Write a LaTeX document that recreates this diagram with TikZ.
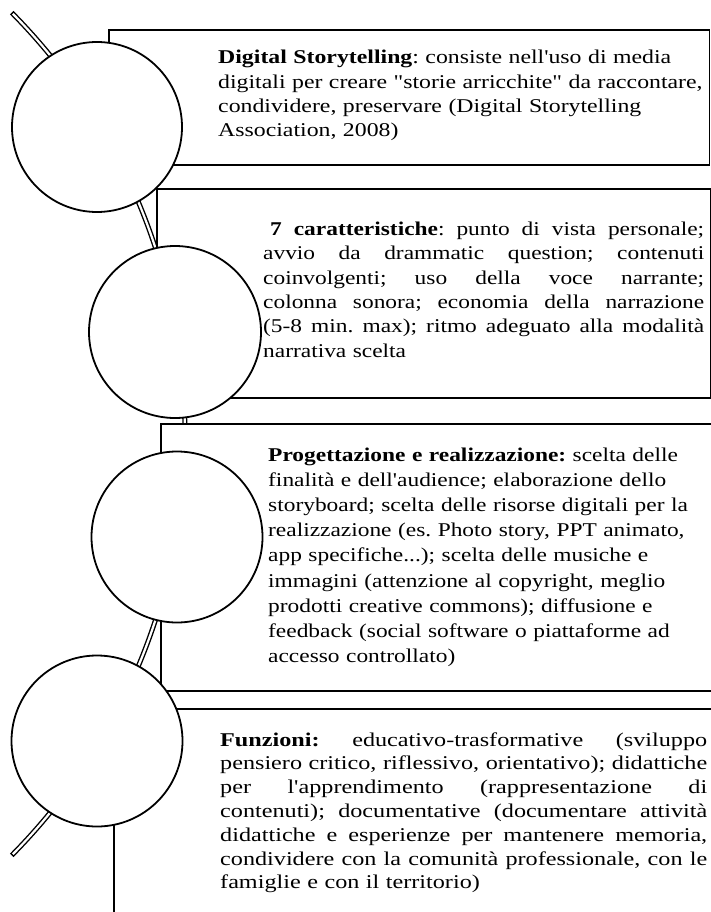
\documentclass[tikz,border=0pt]{standalone}
\usepackage{fontspec}
\usetikzlibrary{calc}
\newfontfamily\gar[FakeStretch=1.24]{Liberation Serif}
\newfontfamily\garm[FakeStretch=1.22]{Liberation Serif}
\newfontfamily\garn[FakeStretch=1.20]{Liberation Serif}
% one fully justified line of a text block (stretchable interword glue restored)
\newcommand{\justline}[1]{\makebox[\linewidth][s]{\spaceskip=0pt\xspaceskip=0pt #1}}
\begin{document}
\frenchspacing
\begin{tikzpicture}[x=1pt,y=-1pt,
  frame/.style={draw=black, line width=1.8pt, fill=white, rectangle, inner sep=0pt, anchor=north west},
  bubble/.style={circle, draw=black, line width=1.8pt, fill=white, inner sep=0pt},
  txt/.style={anchor=base west, inner sep=0pt, align=left, text=black}]
\useasboundingbox (0,0) rectangle (711,912);

% timeline: a double rule on a wide arc through the four circles
\coordinate (hub) at (-414,434);
\coordinate (railTop) at ($(hub)+(-44.7:599)$);
\coordinate (railTopIn) at ($(hub)+(-44.55:599)$);
\draw[line width=5pt, black] (railTop) arc[start angle=-44.7, end angle=44.7, radius=599];
\draw[line width=2.2pt, white] (railTopIn) arc[start angle=-44.55, end angle=44.55, radius=599];

% text panels
\node[frame, minimum width=600.5pt, minimum height=135pt] (box1) at (108,29) {};
\node[frame, minimum width=553.5pt, minimum height=209pt] (box2) at (156,188) {};
\node[frame, minimum width=565pt, minimum height=267pt] (box3) at (160,423) {};
\node[frame, minimum width=612pt, minimum height=222pt] (box4) at (113,708) {};

% circles
\node[bubble, minimum size=170pt] (c1) at (97,127) {};
\node[bubble, minimum size=172pt] (c2) at (175,332) {};
\node[bubble, minimum size=171pt] (c3) at (177,537) {};
\node[bubble, minimum size=171pt] (c4) at (97,741) {};

% texts
\node[txt, text width=500pt, font={\garm\fontsize{19.5pt}{24.3pt}\selectfont}] (t1) at (218,64)
 {\textbf{Digital Storytelling}: consiste nell'uso di media\\
  digitali per creare "storie arricchite" da raccontare,\\
  condividere, preservare (Digital Storytelling\\
  Association, 2008)};

\node[txt, text width=441pt, font={\garn\fontsize{19.5pt}{24.3pt}\selectfont}] (t2) at (263,235.5)
 {\justline{\hspace{7pt}\textbf{7 caratteristiche}: punto di vista personale;}\\
  \justline{avvio da drammatic question; contenuti}\\
  \justline{coinvolgenti; uso della voce narrante;}\\
  \justline{colonna sonora; economia della narrazione}\\
  \justline{(5-8 min. max); ritmo adeguato alla modalità}\\
  narrativa scelta};

\node[txt, text width=480pt, font={\garn\fontsize{19.5pt}{25.2pt}\selectfont}] (t3) at (268,461)
 {\textbf{Progettazione e realizzazione:} scelta delle\\
  finalità e dell'audience; elaborazione dello\\
  storyboard; scelta delle risorse digitali per la\\
  realizzazione (es. Photo story, PPT animato,\\
  app specifiche...); scelta delle musiche e\\
  immagini (attenzione al copyright, meglio\\
  prodotti creative commons); diffusione e\\
  feedback (social software o piattaforme ad\\
  accesso controllato)};

\node[txt, text width=487pt, font={\gar\fontsize{19.5pt}{23.8pt}\selectfont}] (t4) at (220,746)
 {\justline{\textbf{Funzioni:} educativo-trasformative (sviluppo}\\
  \justline{pensiero critico, riflessivo, orientativo); didattiche}\\
  \justline{per l'apprendimento (rappresentazione di}\\
  \justline{contenuti); documentative (documentare attività}\\
  \justline{didattiche e esperienze per mantenere memoria,}\\
  \justline{condividere con la comunità professionale, con le}\\
  famiglie e con il territorio)};
\end{tikzpicture}
\end{document}
